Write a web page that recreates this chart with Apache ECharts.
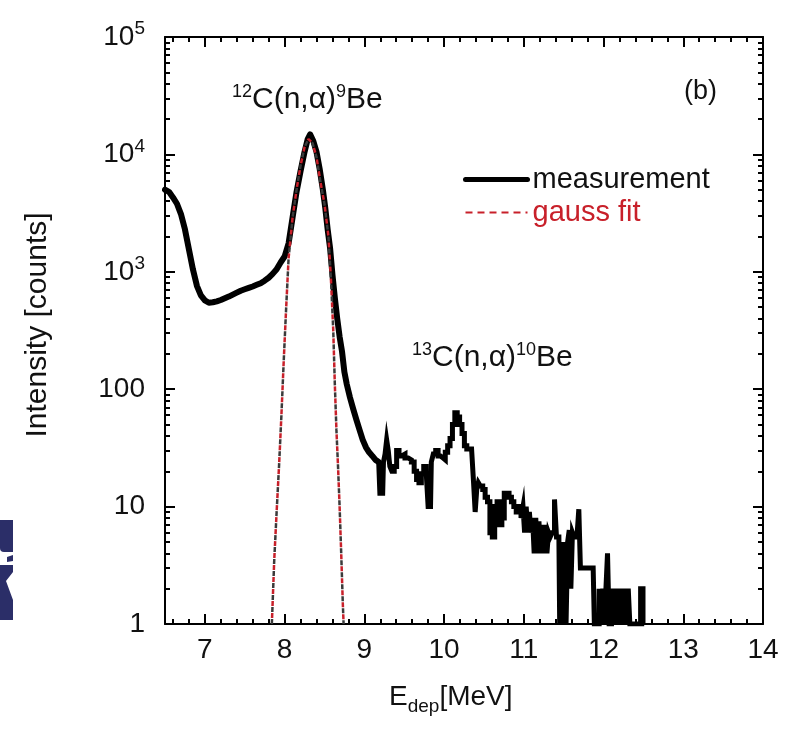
<!DOCTYPE html>
<html>
<head>
<meta charset="utf-8">
<script src="https://cdn.jsdelivr.net/npm/echarts@6/dist/echarts.min.js"></script>
<style>
html, body { margin: 0; padding: 0; background: #fff; }
#main { width: 787px; height: 729px; }
</style>
</head>
<body>
<div id="main"></div>
<script>
var energy = [
  6.50, 6.55, 6.60, 6.65, 6.70, 6.75, 6.80, 6.85, 6.90, 6.95,
  7.00, 7.05, 7.10, 7.15, 7.20, 7.25, 7.30, 7.35, 7.40, 7.45,
  7.50, 7.55, 7.60, 7.65, 7.70, 7.75, 7.80, 7.85, 7.90, 7.95,
  8.00, 8.05, 8.10, 8.15, 8.20, 8.25, 8.29, 8.32, 8.36, 8.40,
  8.44, 8.48, 8.51, 8.54, 8.57, 8.60, 8.63, 8.66, 8.69, 8.72,
  8.75, 8.78, 8.82, 8.86, 8.90, 8.94, 8.98, 9.02, 9.06, 9.10,
  9.14, 9.18, 9.21, 9.23, 9.25, 9.27, 9.29, 9.31, 9.33, 9.36,
  9.39, 9.42, 9.45, 9.49, 9.53, 9.57, 9.61, 9.64, 9.67, 9.70,
  9.73, 9.76, 9.79, 9.81, 9.83, 9.85, 9.88, 9.91, 9.94, 9.97,
  10.00, 10.03, 10.06, 10.09, 10.12, 10.15, 10.18, 10.21, 10.24, 10.27,
  10.30, 10.33, 10.36, 10.38, 10.40, 10.42, 10.44, 10.47, 10.50, 10.53,
  10.56, 10.59, 10.62, 10.65, 10.68, 10.71, 10.74, 10.77, 10.80, 10.83,
  10.86, 10.89, 10.92, 10.95, 10.98, 11.00, 11.02, 11.04, 11.06, 11.08,
  11.10, 11.12, 11.14, 11.16, 11.18, 11.20, 11.22, 11.24, 11.26, 11.28,
  11.30, 11.32, 11.34, 11.37, 11.40, 11.42, 11.44, 11.46, 11.48, 11.50,
  11.52, 11.54, 11.56, 11.58, 11.60, 11.62, 11.64, 11.66, 11.68, 11.70,
  11.72, 11.75, 11.78, 11.81, 11.84, 11.87, 11.90, 11.93, 11.96, 11.98,
  12.00, 12.02, 12.04, 12.06, 12.08, 12.10, 12.12, 12.14, 12.16, 12.18,
  12.20, 12.22, 12.24, 12.26, 12.28, 12.30, 12.32, 12.34, 12.38, 12.42,
  12.45, 12.48, 12.51
];
var counts = [
  5000, 4800, 4300, 3800, 3100, 2300, 1550, 1050, 760, 630,
  570, 545, 550, 560, 575, 595, 615, 640, 665, 690,
  710, 730, 750, 775, 800, 840, 890, 960, 1050, 1200,
  1350, 1750, 2900, 4800, 7200, 10500, 13500, 14800, 13000, 10500,
  7500, 5000, 3500, 2300, 1600, 950, 600, 400, 280, 210,
  140, 110, 85, 68, 55, 45, 37, 32, 29, 27,
  25, 24, 13, 13, 24, 28, 37, 30, 22, 20,
  22, 30, 27, 28, 26, 25, 24, 20, 17, 16,
  19, 22, 20, 10, 10, 24, 28, 30, 27, 26,
  25, 29, 33, 38, 50, 63, 58, 50, 42, 33,
  31, 31, 32, 16, 9, 14, 16, 15, 14, 12,
  11, 6, 5.5, 10, 11, 7, 8, 13, 13, 12,
  11, 10, 9, 10, 8, 10, 6, 10, 6, 9,
  6, 8, 4, 8, 4, 7.5, 4, 7, 4, 7,
  4, 6, 5.5, 6, 11.5, 5.5, 5.5, 1, 5, 1,
  5, 1, 5, 6.3, 2, 6, 5.5, 5.5, 6, 9.5,
  3, 3, 3, 3, 3, 3, 1, 1, 2, 1,
  2, 1, 2, 4, 1, 1, 2, 1, 2, 1,
  2, 1, 2, 1, 2, 1, 2, 1, 1, 1,
  1, 2, 1
];
// above this energy the spectrum is drawn as a stepped histogram
var stepFrom = 9.18;

// gauss fit of the 12C(n,a)9Be peak
var fitEnergy = [
  7.84, 7.87, 7.90, 7.93, 7.96, 7.99, 8.02, 8.05, 8.10, 8.15,
  8.20, 8.25, 8.30, 8.35, 8.40, 8.45, 8.50, 8.55, 8.58, 8.61,
  8.63, 8.65, 8.67, 8.69, 8.71, 8.73, 8.74
];
var fitCounts = [
  1, 3.5, 9, 22, 60, 180, 500, 1300, 2900, 5000,
  8000, 11500, 13500, 12500, 9500, 5800, 3800, 2000, 900, 320,
  110, 45, 22, 10, 4, 1.5, 1
];

var xMajorTicks = [7, 8, 9, 10, 11, 12, 13, 14];
var xMinorTicks = [];
for (var t = 66; t < 140; t += 2) {
  if (t % 10 !== 0) xMinorTicks.push(t / 10);
}
var yMinorTicks = [];
[1, 10, 100, 1000, 10000].forEach(function (d) {
  for (var k = 2; k <= 9; k++) yMinorTicks.push(k * d);
});

var FONT = '"Liberation Sans", Arial, Helvetica, sans-serif';
var INK = '#111';
var RED = '#c8202a';
var tickLine = { color: '#000', width: 2 };

function xAxisDef(pos, minor) {
  return {
    type: 'value', min: 6.5, max: 14, position: pos,
    axisLine: { show: !minor, onZero: false, lineStyle: { color: '#000', width: 2 } },
    axisTick: { show: true, inside: true, length: minor ? 5 : 10,
      customValues: minor ? xMinorTicks : xMajorTicks, lineStyle: tickLine },
    axisLabel: { show: pos === 'bottom' && !minor, customValues: xMajorTicks,
      fontSize: 28, fontFamily: FONT, color: INK, margin: 12 },
    splitLine: { show: false }
  };
}
function yAxisDef(pos, minor) {
  var ax = {
    type: 'log', logBase: 10, min: 1, max: 100000, position: pos,
    axisLine: { show: !minor, onZero: false, lineStyle: { color: '#000', width: 2 } },
    axisTick: { show: true, inside: true, length: minor ? 5 : 10, lineStyle: tickLine },
    axisLabel: {
      show: pos === 'left' && !minor,
      fontSize: 28, fontFamily: FONT, color: INK, margin: 20,
      formatter: function (v) {
        if (v < 1000) return String(Math.round(v));
        return '10{s|' + Math.round(Math.log10(v)) + '}';
      },
      rich: { s: { fontSize: 19, fontFamily: FONT, color: INK, padding: [0, 0, 16, 0] } }
    },
    splitLine: { show: false }
  };
  if (minor) ax.axisTick.customValues = yMinorTicks;
  return ax;
}

var labelRich = {
  b: { fontSize: 30, fontFamily: FONT, fill: INK, color: INK },
  s: { fontSize: 18, fontFamily: FONT, fill: INK, color: INK, padding: [0, 0, 16, 0] }
};

var measPoints = energy.map(function (e, i) { return [e, counts[i]]; });
var smoothPart = measPoints.filter(function (p) { return p[0] <= stepFrom; });
var stepPart = measPoints.filter(function (p) { return p[0] >= stepFrom; });
var fitPoints = fitEnergy.map(function (e, i) { return [e, fitCounts[i]]; });

var chart = echarts.init(document.getElementById('main'));

var option = {
  animation: false,
  backgroundColor: '#fff',
  grid: { left: 165, top: 37, right: 24, bottom: 105, containLabel: false },
  xAxis: [xAxisDef('bottom', false), xAxisDef('bottom', true), xAxisDef('top', false), xAxisDef('top', true)],
  yAxis: [yAxisDef('left', false), yAxisDef('left', true), yAxisDef('right', false), yAxisDef('right', true)],
  legend: {
    orient: 'vertical', left: 463, top: 165, padding: 0, itemGap: 4,
    itemWidth: 62, itemHeight: 14, selectedMode: false,
    itemStyle: { opacity: 0 },
    textStyle: { fontSize: 29, fontFamily: FONT, color: INK },
    data: [
      { name: 'measurement', lineStyle: { width: 5, color: '#000' } },
      { name: 'gauss fit', textStyle: { color: RED },
        lineStyle: { width: 2, color: RED, type: [7, 5], dashOffset: 0 } }
    ]
  },
  series: [
    {
      name: 'measurement', type: 'line',
      symbol: 'none', showSymbol: false, z: 2,
      lineStyle: { color: '#000', width: 6, join: 'round', cap: 'round' },
      itemStyle: { color: '#000' },
      data: smoothPart
    },
    {
      name: 'measurement', type: 'line', step: 'middle',
      symbol: 'none', showSymbol: false, z: 2,
      lineStyle: { color: '#000', width: 5, join: 'miter' },
      itemStyle: { color: '#000' },
      data: stepPart
    },
    {
      name: 'gauss fit (dark)', type: 'line', symbol: 'none', showSymbol: false, z: 3,
      lineStyle: { color: '#3a3a3a', width: 2.5, type: [5, 7] },
      data: fitPoints
    },
    {
      name: 'gauss fit', type: 'line', symbol: 'none', showSymbol: false, z: 4,
      lineStyle: { color: RED, width: 2.5, type: [5, 7], dashOffset: 6 },
      itemStyle: { color: RED },
      data: fitPoints
    }
  ],
  graphic: [
    {
      type: 'text', x: 232, y: 100,
      style: { text: '{s|12}{b|C(n,α)}{s|9}{b|Be}', verticalAlign: 'middle', align: 'left', rich: labelRich }
    },
    {
      type: 'text', x: 412, y: 358,
      style: { text: '{s|13}{b|C(n,α)}{s|10}{b|Be}', verticalAlign: 'middle', align: 'left', rich: labelRich }
    },
    {
      type: 'text', x: 684, y: 92,
      style: { text: '(b)', fontSize: 27, fontFamily: FONT, fill: INK, verticalAlign: 'middle', align: 'left' }
    },
    {
      type: 'text', x: 389, y: 697,
      style: {
        text: '{b|E}{d|dep}{b|[MeV]}', verticalAlign: 'middle', align: 'left',
        rich: {
          b: { fontSize: 28, fontFamily: FONT, fill: INK, color: INK },
          d: { fontSize: 19, fontFamily: FONT, fill: INK, color: INK, padding: [20, 0, 0, 0] }
        }
      }
    },
    {
      type: 'text', x: 38, y: 325, rotation: Math.PI / 2,
      style: { text: 'Intensity [counts]', fontSize: 30, fontFamily: FONT, fill: INK, align: 'center', verticalAlign: 'middle' }
    },
    // cropped logo fragment at the left edge
    { type: 'rect', shape: { x: 0, y: 520, width: 13, height: 32, r: [0, 0, 0, 4] }, style: { fill: '#2b2e68' } },
    { type: 'polygon', shape: { points: [[7, 557], [13, 555], [13, 561], [7, 562]] }, style: { fill: '#2b2e68' } },
    { type: 'polygon', shape: { points: [[0, 565], [13, 565], [13, 572], [6, 581], [13, 600], [13, 620], [0, 620]] }, style: { fill: '#2b2e68' } }
  ]
};

chart.setOption(option);
</script>
</body>
</html>
